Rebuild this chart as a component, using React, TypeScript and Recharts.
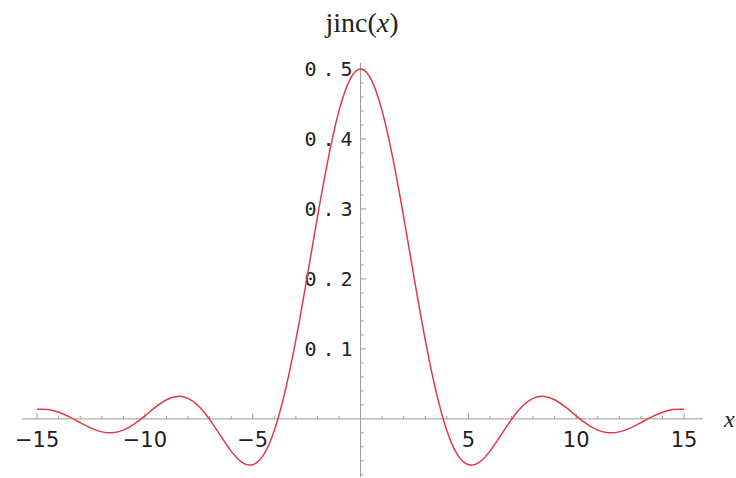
import React from 'react';
import { LineChart, Line, XAxis, YAxis, ReferenceLine } from 'recharts';

const xValues = [
  -15, -14.5, -14, -13.5, -13, -12.5, -12, -11.5, -11, -10.5, -10, -9.5, -9, -8.5, -8, -7.5,
  -7, -6.5, -6, -5.5, -5, -4.5, -4, -3.5, -3, -2.5, -2, -1.5, -1, -0.5, 0,
  0.5, 1, 1.5, 2, 2.5, 3, 3.5, 4, 4.5, 5, 5.5, 6, 6.5, 7, 7.5,
  8, 8.5, 9, 9.5, 10, 10.5, 11, 11.5, 12, 12.5, 13, 13.5, 14, 14.5, 15,
];

const jincValues = [
  0.0137, 0.0133, 0.0095, 0.0028, -0.0054, -0.0132, -0.0186, -0.0199, -0.0161, -0.0075, 0.0043,
  0.017, 0.0273, 0.0321, 0.0293, 0.018, -0.0007, -0.0237, -0.0461, -0.0621, -0.0655, -0.0514,
  -0.0165, 0.0393, 0.113, 0.1988, 0.2884, 0.3719, 0.4401, 0.4846, 0.5,
  0.4846, 0.4401, 0.3719, 0.2884, 0.1988, 0.113, 0.0393, -0.0165, -0.0514, -0.0655, -0.0621,
  -0.0461, -0.0237, -0.0007, 0.018, 0.0293, 0.0321, 0.0273, 0.017, 0.0043, -0.0075, -0.0161,
  -0.0199, -0.0186, -0.0132, -0.0054, 0.0028, 0.0095, 0.0133, 0.0137,
];

const xMajorTicks = [-15, -10, -5, 5, 10, 15];
const xMajorLabels = ['\u221215', '\u221210', '\u22125', '5', '10', '15'];
const xMinorTicks = [
  -14, -13, -12, -11, -9, -8, -7, -6, -4, -3, -2, -1,
  1, 2, 3, 4, 6, 7, 8, 9, 11, 12, 13, 14,
];
const yMajorTicks = [0.1, 0.2, 0.3, 0.4, 0.5];
const yMajorLabels = ['0.1', '0.2', '0.3', '0.4', '0.5'];
const yMinorTicks = [
  -0.08, -0.06, -0.04, -0.02, 0.02, 0.04, 0.06, 0.08, 0.12, 0.14, 0.16, 0.18,
  0.22, 0.24, 0.26, 0.28, 0.32, 0.34, 0.36, 0.38, 0.42, 0.44, 0.46, 0.48,
];

const data = xValues.map((x, i) => ({ x, y: jincValues[i] }));

const axisColor = '#9a9a9a';
const curveColor = '#e23a45';

// tick lengths in data units (plot is ~21.6 px per x unit, ~700 px per y unit)
const xMinorLen = 0.0043;
const xMajorLen = 0.008;
const yMinorLen = 0.14;
const yMajorLen = 0.26;

const xLabel = (text: string) => (props: any) => {
  const vb = props.viewBox;
  return (
    <text
      x={vb.x}
      y={vb.y + vb.height + 28}
      textAnchor="middle"
      fontFamily="DejaVu Sans"
      fontSize={21}
      fill="#222"
    >
      {text}
    </text>
  );
};

const yLabel = (text: string) => (props: any) => {
  const vb = props.viewBox;
  return (
    <text
      x={vb.x - 2}
      y={vb.y + 7}
      textAnchor="end"
      fontFamily="DejaVu Sans Mono"
      fontSize={20}
      letterSpacing={6}
      fill="#222"
    >
      {text}
    </text>
  );
};

export default function App() {
  return (
    <div style={{ position: 'absolute', left: 0, top: 0, width: 736, height: 478, background: '#fff' }}>
      <LineChart
        width={736}
        height={478}
        data={data}
        margin={{ top: 63, right: 33, left: 22, bottom: 1 }}
      >
        <XAxis type="number" dataKey="x" domain={[-15.7, 15.88]} hide allowDataOverflow />
        <YAxis type="number" domain={[-0.0831, 0.5086]} hide allowDataOverflow />
        <ReferenceLine y={0} stroke={axisColor} strokeWidth={1} />
        <ReferenceLine x={0} stroke={axisColor} strokeWidth={1} />
        {xMinorTicks.map((t) => (
          <ReferenceLine
            key={`xm${t}`}
            segment={[{ x: t, y: 0 }, { x: t, y: xMinorLen }]}
            stroke={axisColor}
          />
        ))}
        {xMajorTicks.map((t, i) => (
          <ReferenceLine
            key={`xM${t}`}
            segment={[{ x: t, y: 0 }, { x: t, y: xMajorLen }]}
            stroke={axisColor}
            label={xLabel(xMajorLabels[i])}
          />
        ))}
        {yMinorTicks.map((t) => (
          <ReferenceLine
            key={`ym${t}`}
            segment={[{ x: 0, y: t }, { x: yMinorLen, y: t }]}
            stroke={axisColor}
          />
        ))}
        {yMajorTicks.map((t, i) => (
          <ReferenceLine
            key={`yM${t}`}
            segment={[{ x: 0, y: t }, { x: yMajorLen, y: t }]}
            stroke={axisColor}
            label={yLabel(yMajorLabels[i])}
          />
        ))}
        <Line
          type="natural"
          dataKey="y"
          stroke={curveColor}
          strokeWidth={1.5}
          dot={false}
          isAnimationActive={false}
        />
      </LineChart>
      <svg
        width={736}
        height={478}
        style={{ position: 'absolute', left: 0, top: 0, pointerEvents: 'none' }}
      >
        <text x={362} y={32} textAnchor="middle" fontFamily="Liberation Serif" fontSize={28} fill="#222">
          jinc(<tspan fontStyle="italic">x</tspan>)
        </text>
        <text x={724} y={427} fontFamily="Liberation Serif" fontStyle="italic" fontSize={24} fill="#222">
          x
        </text>
      </svg>
    </div>
  );
}
